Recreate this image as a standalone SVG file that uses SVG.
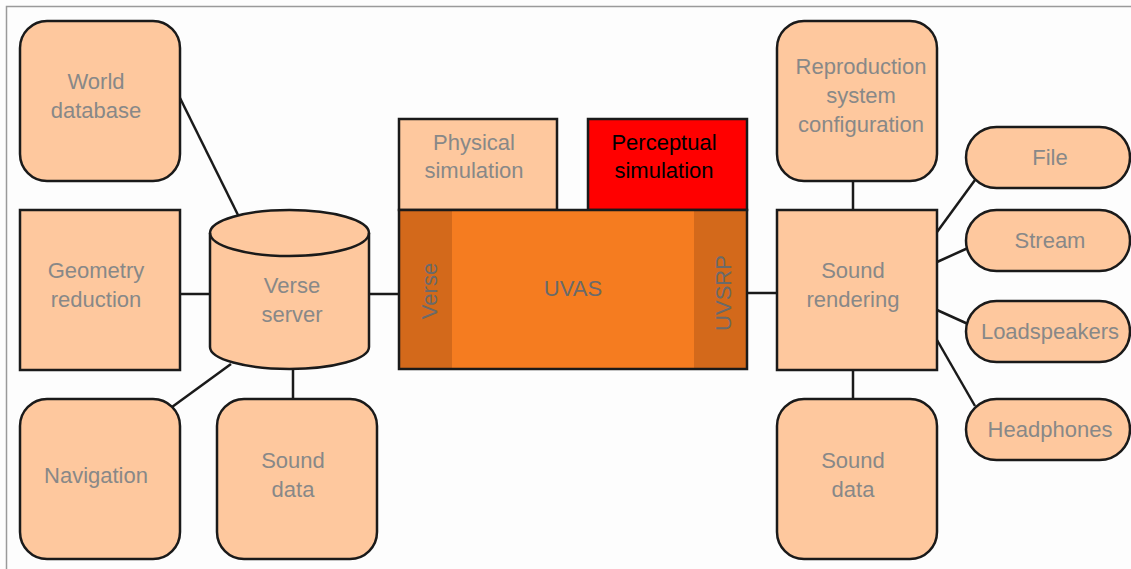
<svg xmlns="http://www.w3.org/2000/svg" width="1131" height="569" viewBox="0 0 1131 569">
<style>
.n{fill:#fec89e;stroke:#1a1a1a;stroke-width:2.5}
.t{font-family:"Liberation Sans",Arial,sans-serif;font-size:22px;fill:#888888;text-anchor:middle}
.c{stroke:#1a1a1a;stroke-width:2.5;fill:none}
</style>
<rect x="0" y="0" width="1131" height="569" fill="#fdfdfd"/>
<path d="M6.5 569V6.5H1131" fill="none" stroke="#9a9a9a" stroke-width="1.5"/>
<g id="connectors">
<line class="c" x1="180" y1="98" x2="239" y2="217"/>
<line class="c" x1="180" y1="294" x2="210" y2="294"/>
<line class="c" x1="369" y1="294" x2="399" y2="294"/>
<line class="c" x1="172" y1="407" x2="231" y2="364"/>
<line class="c" x1="293" y1="369" x2="293" y2="399"/>
<line class="c" x1="747" y1="293" x2="777" y2="293"/>
<line class="c" x1="853" y1="181" x2="853" y2="210"/>
<line class="c" x1="853" y1="370" x2="853" y2="399"/>
<line class="c" x1="937" y1="232" x2="975" y2="180"/>
<line class="c" x1="937" y1="262" x2="968" y2="248"/>
<line class="c" x1="937" y1="310" x2="968" y2="324"/>
<line class="c" x1="937" y1="340" x2="975" y2="406"/>
</g>
<g id="world-database">
<rect class="n" x="20" y="21" width="160" height="160" rx="27"/>
<text class="t" x="96" y="89">World</text>
<text class="t" x="96" y="118">database</text>
</g>
<g id="geometry-reduction">
<rect class="n" x="20" y="210" width="160" height="160"/>
<text class="t" x="96" y="278">Geometry</text>
<text class="t" x="96" y="307">reduction</text>
</g>
<g id="verse-server">
<path class="n" d="M210 233V347A79.5 22 0 0 0 369 347V233A79.5 23 0 0 0 210 233Z"/>
<path class="c" d="M210 233A79.5 23 0 0 0 369 233"/>
<text class="t" x="292" y="293">Verse</text>
<text class="t" x="292" y="322">server</text>
</g>
<g id="navigation">
<rect class="n" x="20" y="399" width="160" height="160" rx="27"/>
<text class="t" x="96" y="483">Navigation</text>
</g>
<g id="sound-data-left">
<rect class="n" x="217" y="399" width="160" height="160" rx="27"/>
<text class="t" x="293" y="468">Sound</text>
<text class="t" x="293" y="497">data</text>
</g>
<g id="physical-simulation">
<rect class="n" x="399" y="119" width="158" height="91"/>
<text class="t" x="474" y="150">Physical</text>
<text class="t" x="474" y="178">simulation</text>
</g>
<g id="perceptual-simulation">
<rect x="588" y="119" width="159" height="91" fill="#ff0000" stroke="#1a1a1a" stroke-width="2.5"/>
<text class="t" x="664" y="150" style="fill:#000">Perceptual</text>
<text class="t" x="664" y="178" style="fill:#000">simulation</text>
</g>
<g id="uvas">
<rect x="399" y="210" width="348" height="159" fill="#f57c20"/>
<rect x="399" y="210" width="53" height="159" fill="#d3691b"/>
<rect x="694" y="210" width="53" height="159" fill="#d3691b"/>
<rect x="399" y="210" width="348" height="159" fill="none" stroke="#1a1a1a" stroke-width="2.5"/>
<text class="t" x="573" y="296" style="fill:#6a6a6a">UVAS</text>
<text class="t" transform="translate(437 291) rotate(-90)" style="fill:#6a6a6a" x="0" y="0">Verse</text>
<text class="t" transform="translate(731 293) rotate(-90)" style="fill:#6a6a6a" x="0" y="0">UVSRP</text>
</g>
<g id="reproduction-system-configuration">
<rect class="n" x="777" y="21" width="160" height="160" rx="27"/>
<text class="t" x="861" y="74">Reproduction</text>
<text class="t" x="861" y="103">system</text>
<text class="t" x="861" y="132">configuration</text>
</g>
<g id="sound-rendering">
<rect class="n" x="777" y="210" width="160" height="160"/>
<text class="t" x="853" y="278">Sound</text>
<text class="t" x="853" y="307">rendering</text>
</g>
<g id="sound-data-right">
<rect class="n" x="777" y="399" width="160" height="160" rx="27"/>
<text class="t" x="853" y="468">Sound</text>
<text class="t" x="853" y="497">data</text>
</g>
<g id="file">
<rect class="n" x="966" y="127" width="164" height="61" rx="30.5"/>
<text class="t" x="1050" y="165">File</text>
</g>
<g id="stream">
<rect class="n" x="966" y="210" width="164" height="61" rx="30.5"/>
<text class="t" x="1050" y="248">Stream</text>
</g>
<g id="loadspeakers">
<rect class="n" x="966" y="301" width="164" height="61" rx="30.5"/>
<text class="t" x="1050" y="339">Loadspeakers</text>
</g>
<g id="headphones">
<rect class="n" x="966" y="399" width="164" height="61" rx="30.5"/>
<text class="t" x="1050" y="437">Headphones</text>
</g>
</svg>
